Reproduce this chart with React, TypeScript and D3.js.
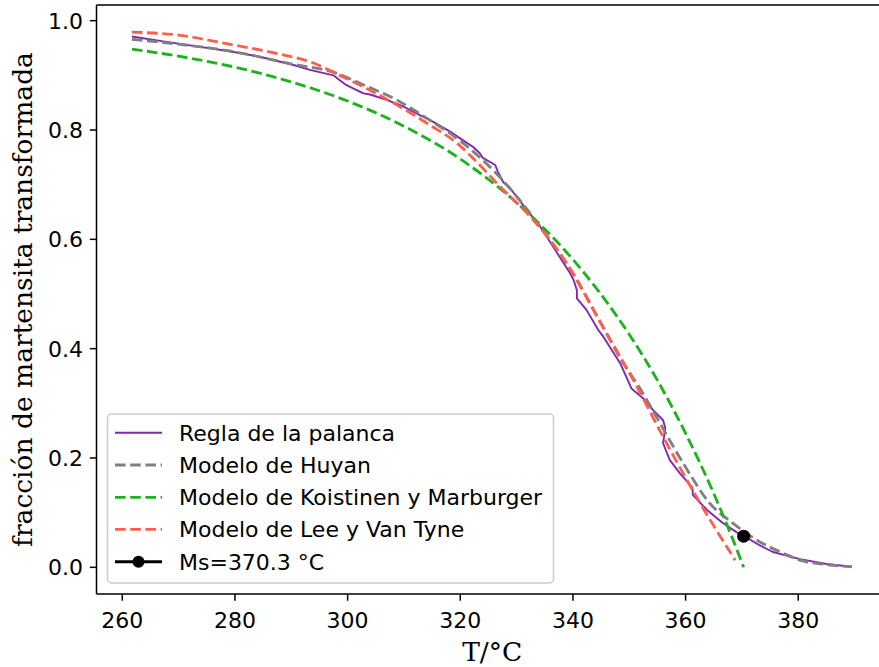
import React from "react";
import * as d3 from "d3";

// ---- Data ----
const palancaT = [261.7, 266.7, 272.6, 278.5, 284.4, 290.4, 293.3, 297.5, 298.6, 299.8, 301.6, 302.8, 304.0, 306.9, 309.9, 312.3, 315.2, 318.2, 320.5, 322.3, 323.5, 324.0, 326.2, 326.7, 327.6, 328.8, 331.8, 334.2, 337.2, 339.5, 340.1, 340.7, 340.7, 342.4, 344.5, 345.4, 348.4, 350.4, 352.8, 354.2, 356.0, 356.4, 356.0, 357.2, 359.0, 361.2, 361.3, 363.8, 366.6, 369.1, 370.2, 373.2, 375.5, 380.3, 385.0, 389.5];
const palancaF = [0.971, 0.963, 0.954, 0.945, 0.934, 0.919, 0.910, 0.900, 0.891, 0.882, 0.873, 0.867, 0.865, 0.855, 0.843, 0.830, 0.815, 0.797, 0.781, 0.769, 0.757, 0.749, 0.736, 0.723, 0.705, 0.694, 0.654, 0.623, 0.575, 0.538, 0.526, 0.507, 0.492, 0.471, 0.434, 0.422, 0.373, 0.327, 0.306, 0.288, 0.269, 0.255, 0.227, 0.196, 0.172, 0.146, 0.132, 0.105, 0.081, 0.064, 0.058, 0.040, 0.028, 0.015, 0.006, 0.001];

const huyanT = [261.7, 270, 280, 290, 298, 302.5, 308.7, 314.6, 320.5, 327, 334.2, 340.7, 345, 348.6, 352.1, 355, 359.6, 364.3, 368.5, 372.6, 377.3, 380.3, 385, 389.5];
const huyanF = [0.966, 0.957, 0.943, 0.921, 0.904, 0.884, 0.855, 0.818, 0.776, 0.714, 0.623, 0.526, 0.446, 0.379, 0.324, 0.272, 0.190, 0.117, 0.080, 0.050, 0.026, 0.013, 0.005, 0.001];

const koistinenT = [261.7, 270, 280, 290, 300, 310, 320, 330, 340, 345, 350, 355, 360, 365, 368, 370.3];
const koistinenF = [0.948, 0.935, 0.915, 0.888, 0.853, 0.807, 0.747, 0.667, 0.563, 0.499, 0.426, 0.342, 0.245, 0.135, 0.061, 0.0];

const leeT = [261.7, 269.7, 278.5, 287.4, 293.3, 298.6, 302.8, 308.7, 314.6, 319.4, 322.3, 327.1, 333.0, 338.9, 344.8, 350.7, 356.0, 362.6, 368.8];
const leeF = [0.979, 0.974, 0.958, 0.940, 0.925, 0.900, 0.879, 0.846, 0.809, 0.776, 0.748, 0.696, 0.635, 0.556, 0.449, 0.343, 0.239, 0.117, 0.013];

const msT = 370.3;
const msF = 0.057;

const xTicks = [260, 280, 300, 320, 340, 360, 380];
const yTicks = [0.0, 0.2, 0.4, 0.6, 0.8, 1.0];

const legendLabels = [
  "Regla de la palanca",
  "Modelo de Huyan",
  "Modelo de Koistinen y Marburger",
  "Modelo de Lee y Van Tyne",
  "Ms=370.3 °C",
];

const W = 879;
const H = 667;
const left = 96.5;
const right = 888;
const top = 5;
const bottom = 594;

const COLORS = {
  palanca: "#8129ad",
  huyan: "#808080",
  koistinen: "#1fb21f",
  lee: "#ff5e4e",
};

const SANS = "'DejaVu Sans', sans-serif";
const SERIF = "'DejaVu Serif', serif";
const FS = 22;
const LFS = 26.5;

function zip(t: number[], f: number[]): [number, number][] {
  return t.map((v, i) => [v, f[i]]);
}

export default function App() {
  const x = d3.scaleLinear().domain([255.42, 395.93]).range([left, right]);
  const y = d3.scaleLinear().domain([-0.0488, 1.0287]).range([bottom, top]);

  const lin = d3
    .line<[number, number]>()
    .x((d) => x(d[0]))
    .y((d) => y(d[1]));
  const smooth = d3
    .line<[number, number]>()
    .x((d) => x(d[0]))
    .y((d) => y(d[1]))
    .curve(d3.curveMonotoneX);

  const dashW = 2.85;
  const dash = "10.6 4.6";

  const legX = 107.5;
  const legY = 414;
  const legW = 446;
  const legH = 169;
  const rowY = [432.7, 465, 497.3, 529.3, 561.7];
  const hx0 = 115;
  const hx1 = 162;
  const tx = 179;

  return (
    <svg
      width={W}
      height={H}
      style={{ position: "fixed", left: 0, top: 0, background: "#fff" }}
    >
      <rect x={0} y={0} width={W} height={H} fill="#fff" />
      <defs>
        <clipPath id="plotclip">
          <rect x={left} y={top} width={right - left} height={bottom - top} />
        </clipPath>
      </defs>
      <g clipPath="url(#plotclip)">
        <path
          d={lin(zip(palancaT, palancaF)) || ""}
          fill="none"
          stroke={COLORS.palanca}
          strokeWidth={1.9}
          strokeLinejoin="round"
        />
        <path
          d={smooth(zip(huyanT, huyanF)) || ""}
          fill="none"
          stroke={COLORS.huyan}
          strokeWidth={dashW}
          strokeDasharray={dash}
        />
        <path
          d={smooth(zip(koistinenT, koistinenF)) || ""}
          fill="none"
          stroke={COLORS.koistinen}
          strokeWidth={dashW}
          strokeDasharray={dash}
        />
        <path
          d={smooth(zip(leeT, leeF)) || ""}
          fill="none"
          stroke={COLORS.lee}
          strokeWidth={dashW}
          strokeDasharray={dash}
        />
        <circle cx={x(msT)} cy={y(msF)} r={6.5} fill="#000" />
      </g>

      {/* spines */}
      <line x1={left} y1={top} x2={left} y2={bottom} stroke="#000" strokeWidth={1.5} />
      <line x1={left} y1={bottom} x2={right} y2={bottom} stroke="#000" strokeWidth={1.5} />
      <line x1={left} y1={top} x2={right} y2={top} stroke="#000" strokeWidth={1.5} />
      <line x1={right} y1={top} x2={right} y2={bottom} stroke="#000" strokeWidth={1.5} />

      {/* x ticks */}
      {xTicks.map((t) => (
        <g key={"x" + t}>
          <line x1={x(t)} x2={x(t)} y1={bottom} y2={bottom + 6.7} stroke="#000" strokeWidth={1.5} />
          <text
            x={x(t)}
            y={628}
            textAnchor="middle"
            fontFamily={SANS}
            fontSize={FS}
            fill="#000"
          >
            {t}
          </text>
        </g>
      ))}

      {/* y ticks */}
      {yTicks.map((t) => (
        <g key={"y" + t}>
          <line x1={left - 6.7} x2={left} y1={y(t)} y2={y(t)} stroke="#000" strokeWidth={1.5} />
          <text
            x={left - 6.7 - 6.7}
            y={y(t) + 0.36 * FS}
            textAnchor="end"
            fontFamily={SANS}
            fontSize={FS}
            fill="#000"
          >
            {t.toFixed(1)}
          </text>
        </g>
      ))}

      {/* axis labels */}
      <text
        x={(left + right) / 2}
        y={661}
        textAnchor="middle"
        fontFamily={SERIF}
        fontSize={LFS}
        fill="#000"
      >
        T/°C
      </text>
      <text
        transform={`translate(32, ${(top + bottom) / 2}) rotate(-90)`}
        textAnchor="middle"
        fontFamily={SERIF}
        fontSize={LFS}
        fill="#000"
      >
        fracción de martensita transformada
      </text>

      {/* legend */}
      <rect
        x={legX}
        y={legY}
        width={legW}
        height={legH}
        rx={4}
        ry={4}
        fill="#fff"
        fillOpacity={0.8}
        stroke="#cccccc"
        strokeWidth={1.5}
      />
      <line x1={hx0} x2={hx1} y1={rowY[0]} y2={rowY[0]} stroke={COLORS.palanca} strokeWidth={1.9} />
      <line x1={hx0} x2={hx1} y1={rowY[1]} y2={rowY[1]} stroke={COLORS.huyan} strokeWidth={dashW} strokeDasharray={dash} />
      <line x1={hx0} x2={hx1} y1={rowY[2]} y2={rowY[2]} stroke={COLORS.koistinen} strokeWidth={dashW} strokeDasharray={dash} />
      <line x1={hx0} x2={hx1} y1={rowY[3]} y2={rowY[3]} stroke={COLORS.lee} strokeWidth={dashW} strokeDasharray={dash} />
      <line x1={hx0} x2={hx1} y1={rowY[4]} y2={rowY[4]} stroke="#000" strokeWidth={2.85} />
      <circle cx={(hx0 + hx1) / 2} cy={rowY[4]} r={6} fill="#000" />
      {legendLabels.map((l, i) => (
        <text
          key={l}
          x={tx}
          y={rowY[i] + 0.36 * FS}
          fontFamily={SANS}
          fontSize={FS}
          fill="#000"
        >
          {l}
        </text>
      ))}
    </svg>
  );
}
